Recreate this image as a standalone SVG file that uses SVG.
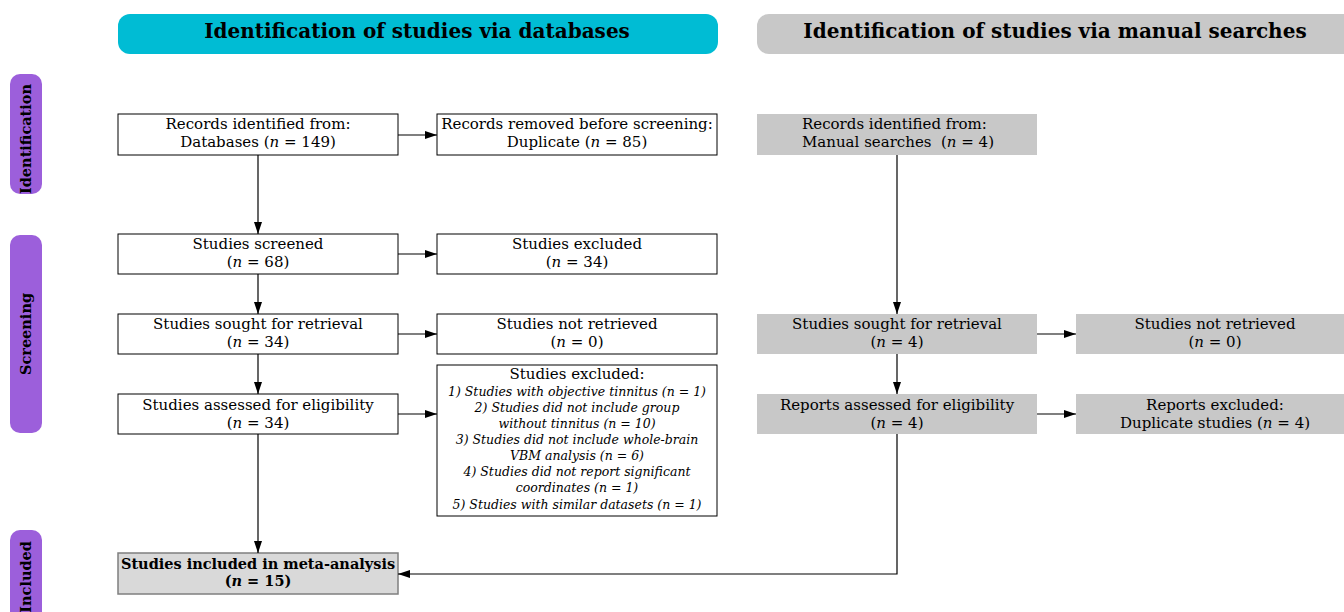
<svg xmlns="http://www.w3.org/2000/svg" width="1344" height="612" viewBox="0 0 1344 612">
<style>
text{font-family:"DejaVu Serif","Liberation Serif",serif;fill:#000}
.hd{font-size:20px;font-weight:bold;text-anchor:middle}
.side{font-size:14.5px;font-weight:bold;text-anchor:middle}
.t{font-size:15px;text-anchor:middle}
.ts{font-size:15px;text-anchor:start}
.it{font-size:12.5px;font-style:italic;text-anchor:middle}
.b{font-size:14.5px;font-weight:bold;text-anchor:middle}
.box{fill:#fff;stroke:#000;stroke-width:1}
.gbox{fill:#c8c8c8;stroke:none}
.ibox{fill:#d9d9d9;stroke:#7f7f7f;stroke-width:1.5}
.pill{fill:#9c5fdb}
.ln{fill:none;stroke:#000;stroke-width:1.2}
</style>
<defs>
<marker id="ar" viewBox="0 0 12 8" refX="12" refY="4" markerWidth="12" markerHeight="8" markerUnits="userSpaceOnUse" orient="auto">
<path d="M0,0 L12,4 L0,8 Z" fill="#000"/>
</marker>
</defs>

<g id="header-db">
<rect x="118" y="14" width="600" height="40" rx="12" fill="#00bcd4"/>
<text class="hd" x="417" y="38">Identification of studies via databases</text>
</g>
<g id="header-manual">
<rect x="757" y="14" width="600" height="40" rx="12" fill="#c8c8c8"/>
<text class="hd" x="1055" y="38">Identification of studies via manual searches</text>
</g>

<g id="side-identification">
<rect class="pill" x="10" y="74" width="32" height="120" rx="10"/>
<text class="side" transform="translate(31,139) rotate(-90)">Identification</text>
</g>
<g id="side-screening">
<rect class="pill" x="10" y="235" width="32" height="198" rx="10"/>
<text class="side" transform="translate(31,334) rotate(-90)">Screening</text>
</g>
<g id="side-included">
<rect class="pill" x="10" y="530" width="32" height="100" rx="10"/>
<text class="side" transform="translate(31,541) rotate(-90)" text-anchor="end" style="text-anchor:end">Included</text>
</g>

<g id="db-records">
<rect class="box" x="118" y="114" width="280" height="41"/>
<text class="t" x="258" y="129">Records identified from:</text>
<text class="t" x="258" y="146.5">Databases (<tspan font-style="italic">n</tspan> = 149)</text>
</g>
<g id="db-removed">
<rect class="box" x="437" y="114" width="280" height="41"/>
<text class="t" x="577" y="129">Records removed before screening:</text>
<text class="t" x="577" y="146.5">Duplicate (<tspan font-style="italic">n</tspan> = 85)</text>
</g>
<g id="db-screened">
<rect class="box" x="118" y="234" width="280" height="40"/>
<text class="t" x="258" y="249">Studies screened</text>
<text class="t" x="258" y="266.5">(<tspan font-style="italic">n</tspan> = 68)</text>
</g>
<g id="db-excluded">
<rect class="box" x="437" y="234" width="280" height="40"/>
<text class="t" x="577" y="249">Studies excluded</text>
<text class="t" x="577" y="266.5">(<tspan font-style="italic">n</tspan> = 34)</text>
</g>
<g id="db-sought">
<rect class="box" x="118" y="314" width="280" height="40"/>
<text class="t" x="258" y="329">Studies sought for retrieval</text>
<text class="t" x="258" y="346.5">(<tspan font-style="italic">n</tspan> = 34)</text>
</g>
<g id="db-notretrieved">
<rect class="box" x="437" y="314" width="280" height="40"/>
<text class="t" x="577" y="329">Studies not retrieved</text>
<text class="t" x="577" y="346.5">(<tspan font-style="italic">n</tspan> = 0)</text>
</g>
<g id="db-assessed">
<rect class="box" x="118" y="394" width="280" height="40"/>
<text class="t" x="258" y="410">Studies assessed for eligibility</text>
<text class="t" x="258" y="427.5">(<tspan font-style="italic">n</tspan> = 34)</text>
</g>
<g id="db-excluded-reasons">
<rect class="box" x="437" y="365" width="280" height="151"/>
<text class="t" x="577" y="379">Studies excluded:</text>
<text class="it" x="577" y="395.5">1) Studies with objective tinnitus (n = 1)</text>
<text class="it" x="577" y="412">2) Studies did not include group</text>
<text class="it" x="577" y="428">without tinnitus (n = 10)</text>
<text class="it" x="577" y="444">3) Studies did not include whole-brain</text>
<text class="it" x="577" y="460">VBM analysis (n = 6)</text>
<text class="it" x="577" y="476">4) Studies did not report significant</text>
<text class="it" x="577" y="492">coordinates (n = 1)</text>
<text class="it" x="577" y="509">5) Studies with similar datasets (n = 1)</text>
</g>
<g id="included">
<rect class="ibox" x="118" y="553" width="280" height="41"/>
<text class="b" x="258" y="568.5">Studies included in meta-analysis</text>
<text class="b" x="258" y="585.5">(<tspan font-style="italic">n</tspan> = 15)</text>
</g>

<g id="man-records">
<rect class="gbox" x="757" y="114" width="280" height="41"/>
<text class="ts" x="802" y="129">Records identified from:</text>
<text class="ts" x="802" y="146.5" xml:space="preserve">Manual searches  (<tspan font-style="italic">n</tspan> = 4)</text>
</g>
<g id="man-sought">
<rect class="gbox" x="757" y="314" width="280" height="40"/>
<text class="t" x="897" y="329">Studies sought for retrieval</text>
<text class="t" x="897" y="346.5">(<tspan font-style="italic">n</tspan> = 4)</text>
</g>
<g id="man-notretrieved">
<rect class="gbox" x="1076" y="314" width="280" height="40"/>
<text class="t" x="1215" y="329">Studies not retrieved</text>
<text class="t" x="1215" y="346.5">(<tspan font-style="italic">n</tspan> = 0)</text>
</g>
<g id="man-assessed">
<rect class="gbox" x="757" y="394" width="280" height="40"/>
<text class="t" x="897" y="410">Reports assessed for eligibility</text>
<text class="t" x="897" y="427.5">(<tspan font-style="italic">n</tspan> = 4)</text>
</g>
<g id="man-excluded">
<rect class="gbox" x="1076" y="394" width="280" height="40"/>
<text class="t" x="1215" y="410">Reports excluded:</text>
<text class="t" x="1215" y="427.5">Duplicate studies (<tspan font-style="italic">n</tspan> = 4)</text>
</g>

<g id="connectors">
<line class="ln" x1="398" y1="135" x2="437" y2="135" marker-end="url(#ar)"/>
<line class="ln" x1="258" y1="155" x2="258" y2="234" marker-end="url(#ar)"/>
<line class="ln" x1="398" y1="254" x2="437" y2="254" marker-end="url(#ar)"/>
<line class="ln" x1="258" y1="274" x2="258" y2="314" marker-end="url(#ar)"/>
<line class="ln" x1="398" y1="334" x2="437" y2="334" marker-end="url(#ar)"/>
<line class="ln" x1="258" y1="354" x2="258" y2="394" marker-end="url(#ar)"/>
<line class="ln" x1="398" y1="414" x2="437" y2="414" marker-end="url(#ar)"/>
<line class="ln" x1="258" y1="434" x2="258" y2="553" marker-end="url(#ar)"/>
<line class="ln" x1="897" y1="155" x2="897" y2="314" marker-end="url(#ar)"/>
<line class="ln" x1="1037" y1="334" x2="1076" y2="334" marker-end="url(#ar)"/>
<line class="ln" x1="897" y1="354" x2="897" y2="394" marker-end="url(#ar)"/>
<line class="ln" x1="1037" y1="414" x2="1076" y2="414" marker-end="url(#ar)"/>
<polyline class="ln" points="897,434 897,574 398,574" marker-end="url(#ar)"/>
</g>
</svg>
